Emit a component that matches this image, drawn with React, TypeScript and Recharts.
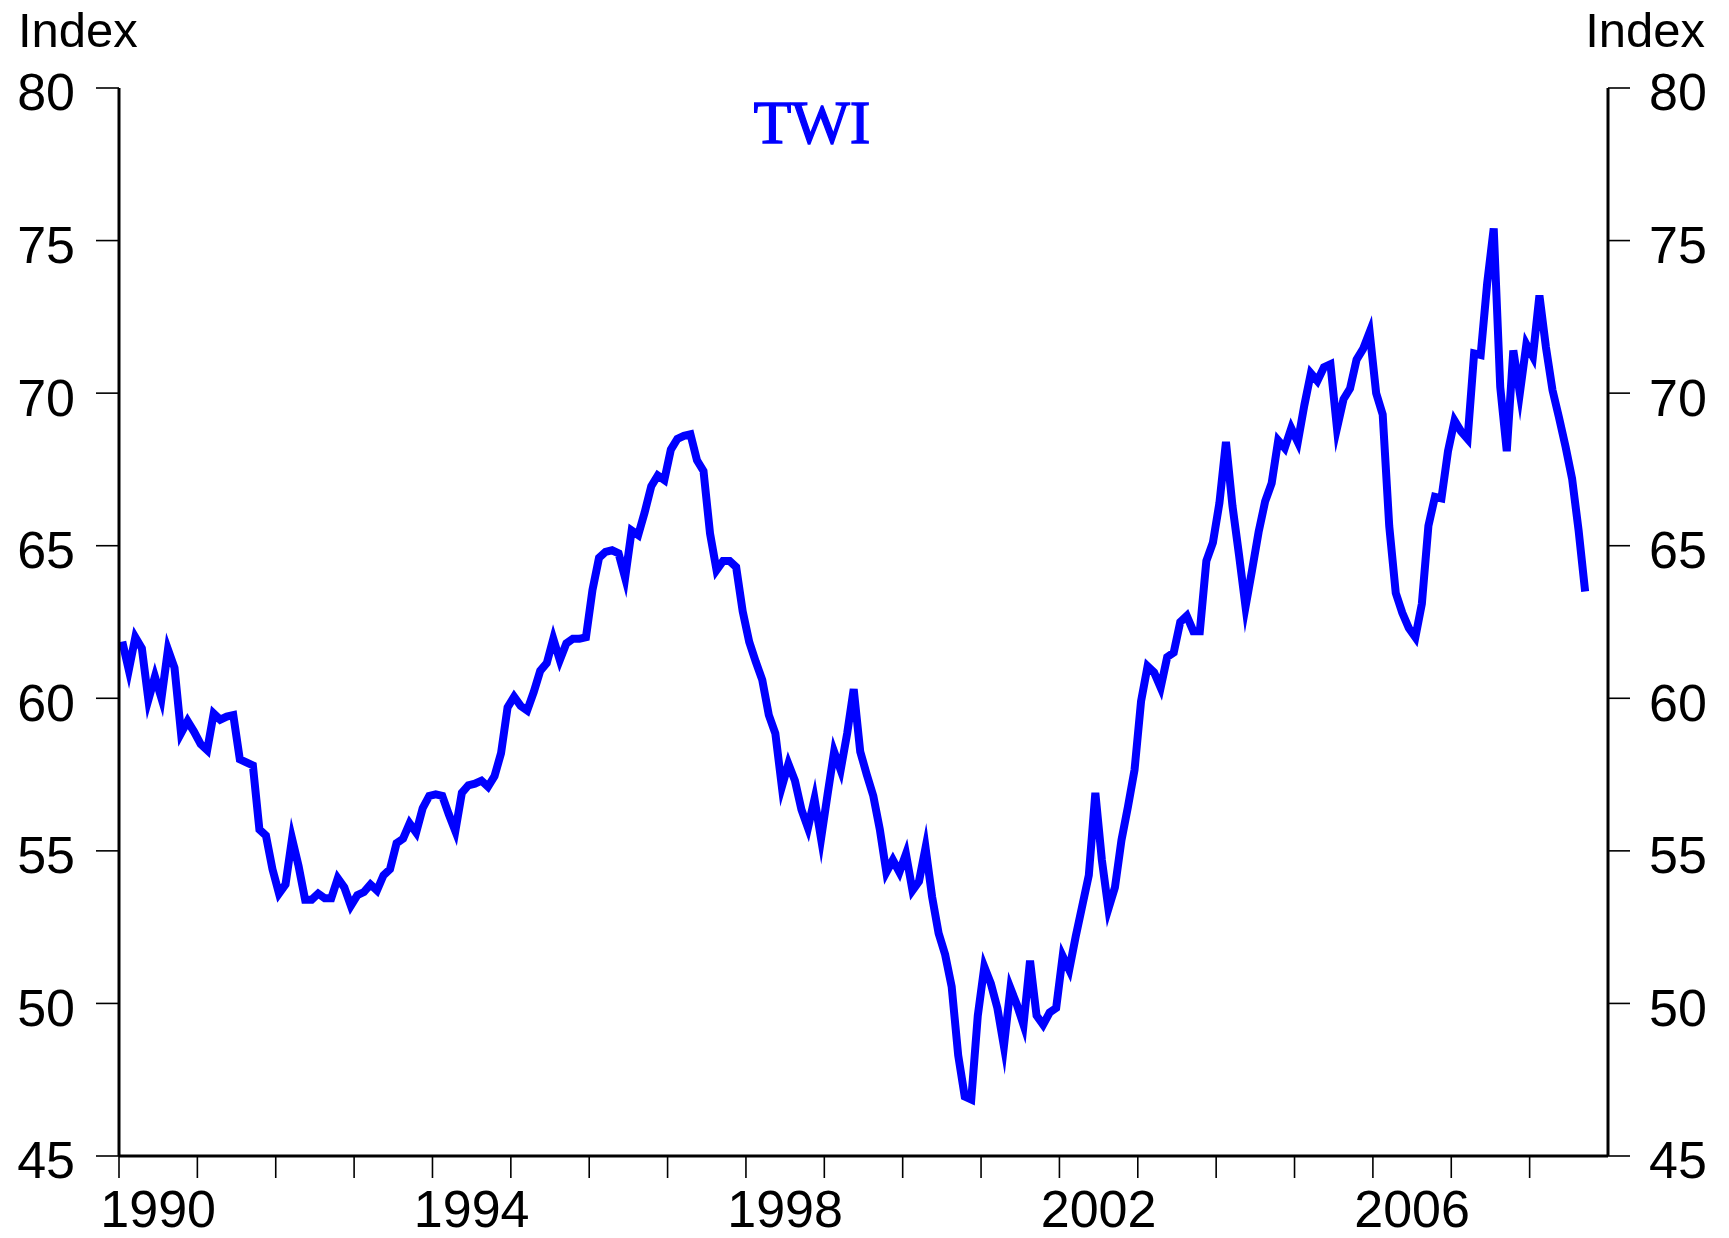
import React from 'react';
import { LineChart, Line, XAxis, YAxis } from 'recharts';

// Monthly TWI index values, one array per year (Jan..Dec)
const twi1990 = [61.86, 60.93, 62.0, 61.64, 59.95, 60.71, 60.0, 61.6, 61.0, 58.85, 59.25, 58.9];
const twi1991 = [58.5, 58.3, 59.5, 59.3, 59.4, 59.45, 58.0, 57.9, 57.8, 55.7, 55.5, 54.4];
const twi1992 = [53.6, 53.9, 55.4, 54.5, 53.4, 53.4, 53.6, 53.45, 53.45, 54.1, 53.8, 53.2];
const twi1993 = [53.55, 53.65, 53.9, 53.7, 54.2, 54.4, 55.25, 55.4, 55.9, 55.6, 56.4, 56.8];
const twi1994 = [56.85, 56.8, 56.2, 55.65, 56.9, 57.15, 57.2, 57.3, 57.1, 57.45, 58.2, 59.7];
const twi1995 = [60.05, 59.75, 59.6, 60.2, 60.9, 61.15, 61.95, 61.25, 61.8, 61.95, 61.95, 62.0];
const twi1996 = [63.55, 64.6, 64.8, 64.85, 64.75, 63.95, 65.5, 65.35, 66.1, 66.95, 67.3, 67.15];
const twi1997 = [68.15, 68.5, 68.6, 68.65, 67.8, 67.45, 65.4, 64.2, 64.5, 64.5, 64.3, 62.85];
const twi1998 = [61.85, 61.2, 60.6, 59.45, 58.85, 57.1, 57.85, 57.3, 56.35, 55.75, 56.7, 55.4];
const twi1999 = [56.85, 58.25, 57.65, 58.85, 60.3, 58.25, 57.5, 56.8, 55.7, 54.3, 54.7, 54.3];
const twi2000 = [54.9, 53.7, 54.0, 55.1, 53.5, 52.3, 51.6, 50.55, 48.3, 46.95, 46.85, 49.6];
const twi2001 = [51.2, 50.65, 49.85, 48.6, 50.5, 49.95, 49.3, 51.4, 49.6, 49.3, 49.7, 49.85];
const twi2002 = [51.55, 51.1, 52.2, 53.2, 54.2, 56.9, 54.7, 53.1, 53.8, 55.35, 56.45, 57.65];
const twi2003 = [59.9, 61.05, 60.85, 60.35, 61.35, 61.5, 62.5, 62.7, 62.2, 62.2, 64.5, 65.1];
const twi2004 = [66.4, 68.4, 66.3, 64.7, 63.0, 64.2, 65.45, 66.45, 67.05, 68.45, 68.2, 68.85];
const twi2005 = [68.4, 69.6, 70.65, 70.4, 70.85, 70.95, 68.85, 69.8, 70.15, 71.1, 71.45, 72.0];
const twi2006 = [70.0, 69.3, 65.65, 63.45, 62.8, 62.3, 62.0, 63.1, 65.65, 66.6, 66.55, 68.1];
const twi2007 = [69.1, 68.75, 68.5, 71.3, 71.25, 73.6, 75.4, 70.2, 68.1, 71.4, 70.0, 71.6];
const twi2008 = [71.2, 73.2, 71.5, 70.1, 69.2, 68.25, 67.2, 65.5, 63.5];

const yearlySeries = [
  twi1990, twi1991, twi1992, twi1993, twi1994, twi1995, twi1996, twi1997, twi1998, twi1999,
  twi2000, twi2001, twi2002, twi2003, twi2004, twi2005, twi2006, twi2007, twi2008,
];
const startYear = 1990;
const endYear = 2009;

// Axis ticks and labels
const yTicks = [45, 50, 55, 60, 65, 70, 75, 80];
const yearTicks = [1990, 1991, 1992, 1993, 1994, 1995, 1996, 1997, 1998, 1999, 2000, 2001, 2002, 2003, 2004, 2005, 2006, 2007, 2008];
const labelYears = [1990, 1994, 1998, 2002, 2006];
const axisTitle = 'Index';
const seriesTitle = 'TWI';

// monthly observations plotted at mid-month
const data = yearlySeries.flatMap((vals, yi) =>
  vals.map((v, m) => ({ t: startYear + yi + (m + 0.5) / 12, v }))
);

const labelPositions = labelYears.map((y) => y + 0.5);
const xTicks = [...yearTicks, ...labelPositions].sort((a, b) => a - b);

const FONT = '"Liberation Sans", Arial, Helvetica, sans-serif';

const XTick = (props: any) => {
  const { x, y, payload } = props;
  const val = payload.value as number;
  if (Number.isInteger(val)) {
    return <line x1={x} y1={y} x2={x} y2={y + 22} stroke="#000" strokeWidth={1.6} />;
  }
  return (
    <text x={x} y={y + 71} textAnchor="middle" fontFamily={FONT} fontSize={52} fill="#000">
      {Math.floor(val)}
    </text>
  );
};

const LeftTick = (props: any) => {
  const { x, y, payload } = props;
  return (
    <text x={x} y={y} dy="0.43em" textAnchor="end" fontFamily={FONT} fontSize={52} fill="#000">
      {payload.value}
    </text>
  );
};

const RightTick = (props: any) => {
  const { x, y, payload } = props;
  return (
    <text x={x} y={y} dy="0.43em" textAnchor="start" fontFamily={FONT} fontSize={52} fill="#000">
      {payload.value}
    </text>
  );
};

export default function App() {
  return (
    <div style={{ position: 'absolute', left: 0, top: 0, width: 1729, height: 1238, background: '#fff' }}>
      <LineChart
        width={1729}
        height={1238}
        data={data}
        margin={{ top: 88, right: 0, bottom: 0, left: 0 }}
      >
        <XAxis
          dataKey="t"
          type="number"
          domain={[startYear, endYear]}
          ticks={xTicks}
          interval={0}
          height={82}
          tickSize={0}
          tickMargin={0}
          tickLine={false}
          axisLine={{ stroke: '#000', strokeWidth: 3 }}
          tick={<XTick />}
          allowDataOverflow
        />
        <YAxis
          yAxisId="left"
          orientation="left"
          domain={[45, 80]}
          ticks={yTicks}
          interval={0}
          width={119}
          tickSize={23}
          tickMargin={21}
          tickLine={{ stroke: '#000', strokeWidth: 1.6 }}
          axisLine={{ stroke: '#000', strokeWidth: 3 }}
          tick={<LeftTick />}
          allowDataOverflow
        />
        <YAxis
          yAxisId="right"
          orientation="right"
          domain={[45, 80]}
          ticks={yTicks}
          interval={0}
          width={121}
          tickSize={22}
          tickMargin={19}
          tickLine={{ stroke: '#000', strokeWidth: 1.6 }}
          axisLine={{ stroke: '#000', strokeWidth: 3 }}
          tick={<RightTick />}
          allowDataOverflow
        />
        <Line
          yAxisId="left"
          type="linear"
          dataKey="v"
          stroke="#0000ff"
          strokeWidth={8}
          strokeLinejoin="miter"
          strokeMiterlimit={8}
          dot={false}
          activeDot={false}
          isAnimationActive={false}
        />
        <Line
          yAxisId="right"
          type="linear"
          dataKey="v"
          stroke="none"
          dot={false}
          activeDot={false}
          isAnimationActive={false}
          legendType="none"
        />
      </LineChart>
      <svg
        width={1729}
        height={1238}
        style={{ position: 'absolute', left: 0, top: 0, pointerEvents: 'none' }}
      >
        <text x={18} y={47} fontFamily={FONT} fontSize={49} fill="#000">{axisTitle}</text>
        <text x={1705} y={47} textAnchor="end" fontFamily={FONT} fontSize={49} fill="#000">{axisTitle}</text>
        <text
          x={812}
          y={143}
          textAnchor="middle"
          fontFamily='"Liberation Serif", "Times New Roman", serif'
          fontSize={62}
          fill="#0000ff"
          stroke="#0000ff"
          strokeWidth={1.3}
        >
          {seriesTitle}
        </text>
      </svg>
    </div>
  );
}
